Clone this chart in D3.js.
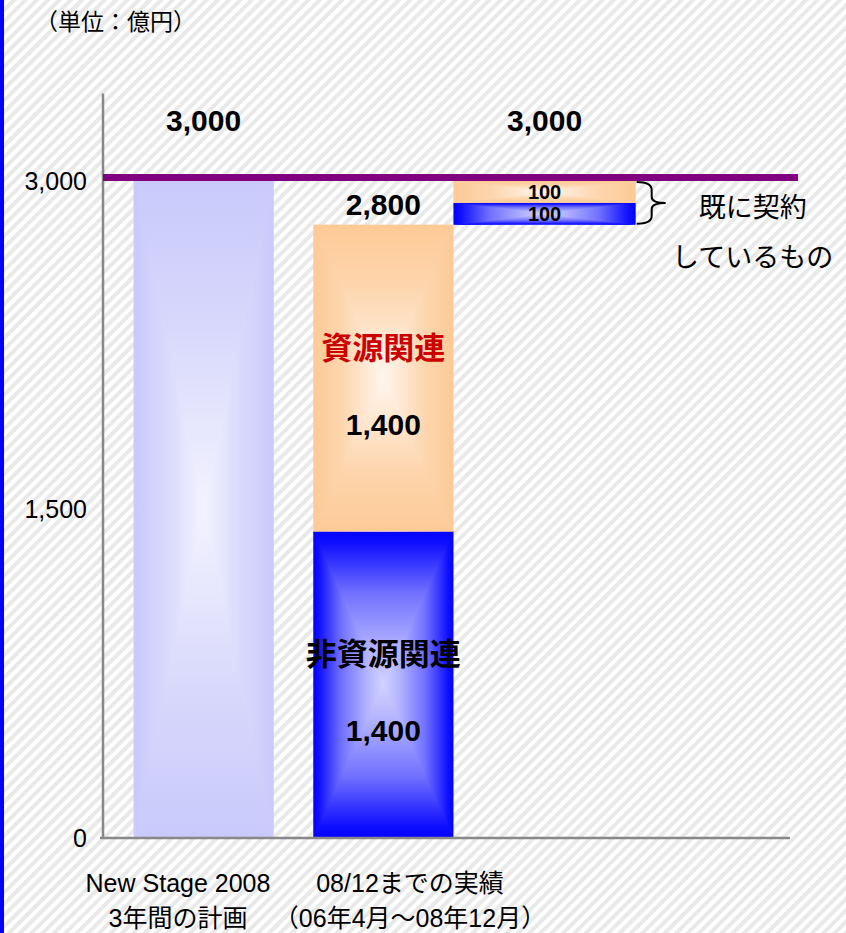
<!DOCTYPE html>
<html>
<head>
<meta charset="utf-8">
<script src="https://cdn.jsdelivr.net/npm/d3@7"></script>
<style>
  body { margin: 0; background: #fff; }
  svg { display: block; }
</style>
</head>
<body>
<svg></svg>
<script>
// values
const columns = ["plan", "actual"];
const xLabels = [["New Stage 2008", "3年間の計画"], ["08/12までの実績", "（06年4月～08年12月）"]];
const planValues = [3000];
const actualNames = ["非資源関連", "資源関連"];
const actualValues = [1400, 1400];
const contractValues = [100, 100];
const totals = [3000, 2800, 3000];
const yTickValues = [0, 1500, 3000];
const targetValue = 3000;
const axisTopValue = 3400;
const unitLabel = "（単位：億円）";
const braceLabel = ["既に契約", "しているもの"];

const width = 846;
const height = 933;
const latin = "'Liberation Sans', Arial, 'Noto Sans CJK JP', sans-serif";
const cjk = "'Noto Sans CJK JP', 'Liberation Sans', sans-serif";
const fmt = d3.format(",");

const svg = d3.select("svg")
              .attr("width", width)
              .attr("height", height);
const defs = svg.append("defs");

// hatched background + blue edge
const hatch = defs.append("pattern")
  .attr("id", "hatch")
  .attr("patternUnits", "userSpaceOnUse")
  .attr("width", 8).attr("height", 8)
  .attr("patternTransform", "rotate(45)");
hatch.append("rect").attr("width", 8).attr("height", 8).attr("fill", "#fff");
hatch.append("rect").attr("width", 4).attr("height", 8).attr("fill", "#e9e9e9");

svg.append("rect").attr("width", width).attr("height", height).attr("fill", "url(#hatch)");
svg.append("rect").attr("width", 4).attr("height", height).attr("fill", "#0000ff");

// rectangular (from centre) gradients, edge -> centre
const schemes = {
  lav:    [[0, "#c9c9fb"], [0.45, "#d8d8fc"], [1, "#f3f3fe"]],
  orange: [[0, "#fdca96"], [0.4, "#fdd5ad"], [1, "#fff6ee"]],
  blue:   [[0, "#0000ff"], [0.08, "#1010ff"], [0.4, "#7070ff"], [0.75, "#b0b0ff"], [1, "#d2d2ff"]]
};

Object.entries(schemes).forEach(([id, stops]) => {
  const h = defs.append("linearGradient").attr("id", id + "-h")
    .attr("x1", 0).attr("y1", 0).attr("x2", 1).attr("y2", 0);
  stops.forEach(s => h.append("stop").attr("offset", s[0] / 2).attr("stop-color", s[1]));
  stops.slice().reverse().forEach(s => h.append("stop").attr("offset", 1 - s[0] / 2).attr("stop-color", s[1]));

  const t = defs.append("linearGradient").attr("id", id + "-t")
    .attr("x1", 0).attr("y1", 0).attr("x2", 0).attr("y2", 1);
  stops.forEach(s => t.append("stop").attr("offset", s[0]).attr("stop-color", s[1]));

  const b = defs.append("linearGradient").attr("id", id + "-b")
    .attr("x1", 0).attr("y1", 1).attr("x2", 0).attr("y2", 0);
  stops.forEach(s => b.append("stop").attr("offset", s[0]).attr("stop-color", s[1]));
});

function gradBox(g, x0, y0, w, h, scheme) {
  g.append("rect")
    .attr("x", x0).attr("y", y0).attr("width", w).attr("height", h)
    .attr("fill", `url(#${scheme}-h)`);
  g.append("path")
    .attr("d", `M${x0},${y0}H${x0 + w}L${x0 + w / 2},${y0 + h / 2}Z`)
    .attr("fill", `url(#${scheme}-t)`);
  g.append("path")
    .attr("d", `M${x0},${y0 + h}H${x0 + w}L${x0 + w / 2},${y0 + h / 2}Z`)
    .attr("fill", `url(#${scheme}-b)`);
}

// scales
const y = d3.scaleLinear().domain([0, 3000]).range([838, 181]);
const x = d3.scaleBand().domain(columns).range([103, 484])
  .paddingInner(0.22).paddingOuter(0.17);
const bw = x.bandwidth();
const labelX = d3.scalePoint().domain(columns).range([178, 410]);

// segments
let acc = 0;
const actualSegs = actualValues.map((v, i) => {
  const s = { name: actualNames[i], y0: acc, y1: acc + v, value: v, scheme: i === 0 ? "blue" : "orange" };
  acc += v;
  return s;
});
let acc2 = d3.sum(actualValues);
const contractSegs = contractValues.map((v, i) => {
  const s = { y0: acc2, y1: acc2 + v, value: v, scheme: i === 0 ? "blue" : "orange" };
  acc2 += v;
  return s;
});

const bars = svg.append("g");

// plan bar
gradBox(bars, x("plan"), y(planValues[0]), bw, y(0) - y(planValues[0]), "lav");

// actual stack
actualSegs.forEach(s => {
  gradBox(bars, x("actual"), y(s.y1), bw, y(s.y0) - y(s.y1), s.scheme);
});

// already contracted, stepped to the right of the actual bar
const cx0 = x("actual") + bw;
const cw = bw * 1.3;
contractSegs.forEach(s => {
  gradBox(bars, cx0, y(s.y1), cw, y(s.y0) - y(s.y1), s.scheme);
});

// axes
svg.append("line")
  .attr("x1", 103).attr("x2", 103)
  .attr("y1", y(axisTopValue)).attr("y2", y(0))
  .attr("stroke", "#888").attr("stroke-width", 2.5);
svg.append("line")
  .attr("x1", 100).attr("x2", 790)
  .attr("y1", y(0)).attr("y2", y(0))
  .attr("stroke", "#888").attr("stroke-width", 2.5);

const yAxis = svg.append("g")
  .attr("transform", "translate(103,0)")
  .call(d3.axisLeft(y).tickValues(yTickValues).tickFormat(fmt).tickSize(0).tickPadding(16));
yAxis.select(".domain").remove();
yAxis.selectAll("text")
  .style("font-family", latin)
  .style("font-size", "25px")
  .attr("fill", "#000");

// target line
svg.append("line")
  .attr("x1", 103).attr("x2", 798)
  .attr("y1", y(targetValue) - 3.5).attr("y2", y(targetValue) - 3.5)
  .attr("stroke", "#800080").attr("stroke-width", 7);

// total labels
const totalPos = [
  [x("plan") + bw / 2, y(totals[0]) - 50],
  [x("actual") + bw / 2, y(totals[1]) - 10],
  [cx0 + cw / 2, y(totals[2]) - 50]
];
svg.append("g").selectAll("text")
  .data(totals)
  .enter()
  .append("text")
  .attr("x", (d, i) => totalPos[i][0])
  .attr("y", (d, i) => totalPos[i][1])
  .attr("text-anchor", "middle")
  .style("font-family", latin)
  .style("font-size", "30px")
  .style("font-weight", "bold")
  .text(d => fmt(d));

// segment labels in the actual bar
actualSegs.forEach(s => {
  const top = y(s.y1), h = y(s.y0) - y(s.y1);
  const cx = x("actual") + bw / 2;
  svg.append("text")
    .attr("x", cx).attr("y", top + h * 0.4)
    .attr("dy", "0.36em")
    .attr("text-anchor", "middle")
    .attr("fill", s.scheme === "orange" ? "#cc0000" : "#000")
    .style("font-family", cjk)
    .style("font-size", "31px")
    .style("font-weight", "bold")
    .text(s.name);
  svg.append("text")
    .attr("x", cx).attr("y", top + h * 0.65)
    .attr("dy", "0.36em")
    .attr("text-anchor", "middle")
    .style("font-family", latin)
    .style("font-size", "30px")
    .style("font-weight", "bold")
    .text(fmt(s.value));
});

// contract segment labels (segments are thin, so smaller type)
contractSegs.forEach(s => {
  svg.append("text")
    .attr("x", cx0 + cw / 2)
    .attr("y", (y(s.y0) + y(s.y1)) / 2)
    .attr("dy", "0.36em")
    .attr("text-anchor", "middle")
    .style("font-family", latin)
    .style("font-size", "20px")
    .style("font-weight", "bold")
    .text(fmt(s.value));
});

// brace
const bTop = y(contractSegs[contractSegs.length - 1].y1);
const bBot = y(contractSegs[0].y0);
const bMid = (bTop + bBot) / 2;
const bx = cx0 + cw;
svg.append("path")
  .attr("d", `M${bx + 1},${bTop + 1} Q${bx + 16},${bTop + 1} ${bx + 16},${bTop + 9}
              L${bx + 16},${bMid - 6} Q${bx + 16},${bMid} ${bx + 30},${bMid}
              Q${bx + 16},${bMid} ${bx + 16},${bMid + 6}
              L${bx + 16},${bBot - 9} Q${bx + 16},${bBot - 1} ${bx + 1},${bBot - 1}`)
  .attr("fill", "none")
  .attr("stroke", "#000")
  .attr("stroke-width", 2);

svg.append("g").selectAll("text")
  .data(braceLabel)
  .enter()
  .append("text")
  .attr("x", bx + 117)
  .attr("y", (d, i) => bMid + 14 + i * 50)
  .attr("text-anchor", "middle")
  .style("font-family", cjk)
  .style("font-size", "27px")
  .text(d => d);

// category labels
columns.forEach((c, i) => {
  svg.append("g").selectAll("text")
    .data(xLabels[i])
    .enter()
    .append("text")
    .attr("x", labelX(c))
    .attr("y", (d, j) => y(0) + 54 + j * 35)
    .attr("text-anchor", "middle")
    .style("font-family", latin)
    .style("font-size", "25px")
    .text(d => d);
});

// unit
svg.append("text")
  .attr("x", 35).attr("y", 30)
  .style("font-family", cjk)
  .style("font-size", "23px")
  .text(unitLabel);
</script>
</body>
</html>
